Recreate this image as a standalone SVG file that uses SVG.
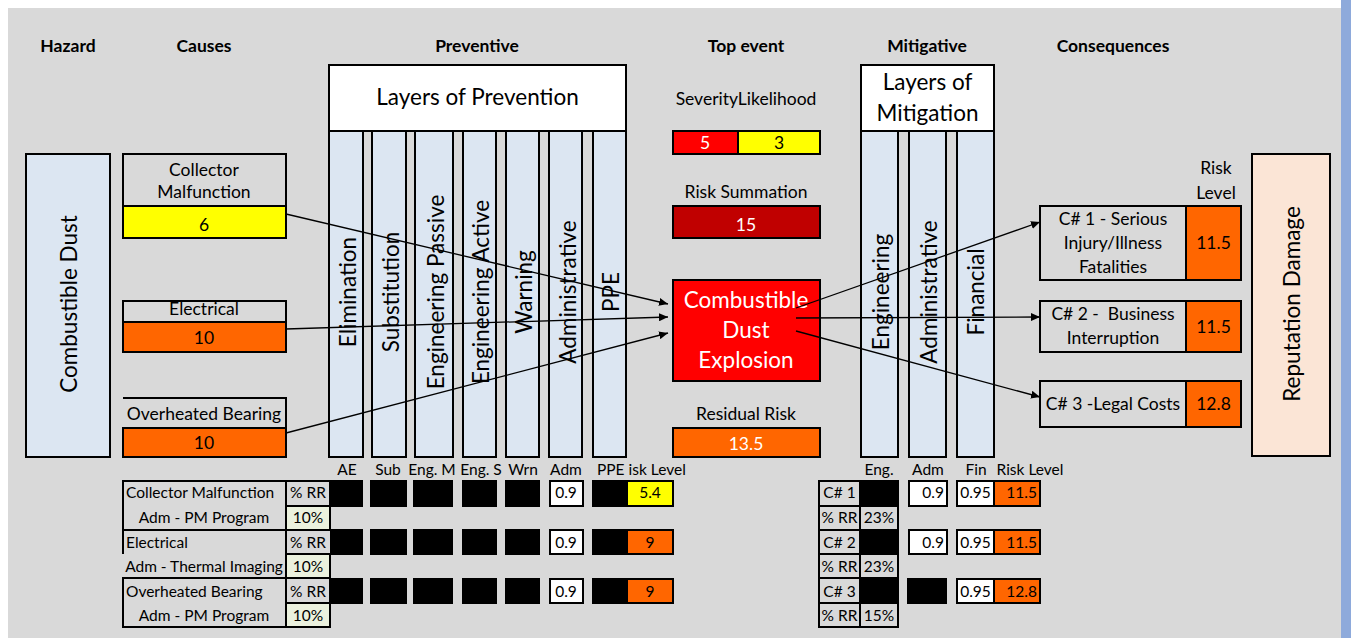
<svg xmlns="http://www.w3.org/2000/svg" width="1351" height="638" viewBox="0 0 1351 638">
  <style>
    text { font-family: Lato, "Liberation Sans", sans-serif; fill: #000; }
    .hd { font-size: 17.5px; font-weight: bold; text-anchor: middle; }
    .md { font-size: 17.5px; text-anchor: middle; }
    .bg { font-size: 22.5px; text-anchor: middle; }
    .sm { font-size: 15.5px; text-anchor: middle; }
    .st { text-anchor: start; }
    .en { text-anchor: end; }
    .wt { fill: #fff; }
    .bx { stroke: #000; stroke-width: 2; }
    .ln { stroke: #000; stroke-width: 2; fill: none; }
    .lay { fill: #dce6f2; stroke: #000; stroke-width: 2; }
    .gr { fill: #d9d9d9; }
    .wh { fill: #fff; }
    .ye { fill: #ffff00; }
    .or { fill: #ff6600; }
    .rd { fill: #ff0000; }
    .dr { fill: #c00000; }
    .gn { fill: #ebf1de; }
    .bk { fill: #000; }
    .cn { stroke: #000; stroke-width: 1.3; fill: none; marker-end: url(#arr); }
  </style>
  <defs>
    <marker id="arr" markerUnits="userSpaceOnUse" markerWidth="10" markerHeight="8" refX="9" refY="4" orient="auto">
      <path d="M0,0 L9,4 L0,8 z" fill="#000"/>
    </marker>
  </defs>

  <!-- sheet background -->
  <rect x="0" y="0" width="1351" height="638" fill="#fff"/>
  <rect x="8" y="8" width="1333" height="630" fill="#d9d9d9"/>
  <rect x="1341" y="0" width="10" height="638" fill="#8eaadb"/>

  <!-- column headings -->
  <g id="headings">
    <text class="hd" x="68" y="52">Hazard</text>
    <text class="hd" x="204" y="52">Causes</text>
    <text class="hd" x="477" y="52">Preventive</text>
    <text class="hd" x="746" y="52">Top event</text>
    <text class="hd" x="927" y="52">Mitigative</text>
    <text class="hd" x="1113" y="52">Consequences</text>
  </g>

  <!-- hazard -->
  <g id="hazard">
    <rect class="lay" x="26" y="154" width="84" height="303"/>
    <text class="bg" transform="translate(77,304) rotate(-90)">Combustible Dust</text>
  </g>

  <!-- causes -->
  <g id="cause-collector">
    <rect class="bx gr" x="123" y="154" width="163" height="52"/>
    <rect class="bx ye" x="123" y="206" width="163" height="32"/>
    <text class="md" x="204" y="176">Collector</text>
    <text class="md" x="204" y="198">Malfunction</text>
    <text class="md" x="204" y="231">6</text>
  </g>
  <g id="cause-electrical">
    <rect class="bx gr" x="123" y="301" width="163" height="21"/>
    <rect class="bx or" x="123" y="322" width="163" height="30"/>
    <text class="md" x="204" y="315">Electrical</text>
    <text class="md" x="204" y="344">10</text>
  </g>
  <g id="cause-bearing">
    <path class="ln" d="M123,398 H286 V428"/>
    <rect class="bx or" x="123" y="428" width="163" height="29"/>
    <text class="md" x="204" y="420">Overheated Bearing</text>
    <text class="md" x="204" y="449">10</text>
  </g>

  <!-- preventive barriers -->
  <g id="prevention-header">
    <rect class="bx wh" x="329" y="65" width="297" height="66"/>
    <text class="bg" x="477.5" y="105">Layers of Prevention</text>
  </g>
  <g id="barrier-elimination">
    <rect class="lay" x="329" y="131" width="34" height="326"/>
    <text class="bg" transform="translate(355.5,292) rotate(-90)">Elimination</text>
  </g>
  <g id="barrier-substitution">
    <rect class="lay" x="372" y="131" width="34" height="326"/>
    <text class="bg" transform="translate(398.5,292) rotate(-90)">Substitution</text>
  </g>
  <g id="barrier-eng-passive">
    <rect class="lay" x="415" y="131" width="38" height="326"/>
    <text class="bg" transform="translate(443.5,292) rotate(-90)">Engineering Passive</text>
  </g>
  <g id="barrier-eng-active">
    <rect class="lay" x="463" y="131" width="33" height="326"/>
    <text class="bg" transform="translate(489,292) rotate(-90)">Engineering Active</text>
  </g>
  <g id="barrier-warning">
    <rect class="lay" x="506" y="131" width="33" height="326"/>
    <text class="bg" transform="translate(532,292) rotate(-90)">Warning</text>
  </g>
  <g id="barrier-administrative">
    <rect class="lay" x="549" y="131" width="33" height="326"/>
    <text class="bg" transform="translate(576,292) rotate(-90)">Administrative</text>
  </g>
  <g id="barrier-ppe">
    <rect class="lay" x="593" y="131" width="33" height="326"/>
    <text class="bg" transform="translate(619,292) rotate(-90)">PPE</text>
  </g>

  <!-- top event and its ratings -->
  <g id="rating">
    <text class="md" x="746" y="105">SeverityLikelihood</text>
    <rect class="bx rd" x="673" y="131" width="65" height="23"/>
    <rect class="bx ye" x="738" y="131" width="82" height="23"/>
    <text class="md wt" x="705" y="149">5</text>
    <text class="md" x="779" y="149">3</text>
  </g>
  <g id="risk-summation">
    <text class="md" x="746" y="198">Risk Summation</text>
    <rect class="bx dr" x="673" y="206" width="147" height="32"/>
    <text class="md wt" x="746" y="231">15</text>
  </g>
  <g id="top-event">
    <rect class="bx rd" x="673" y="280" width="147" height="101"/>
    <text class="bg wt" x="746" y="308">Combustible</text>
    <text class="bg wt" x="746" y="338">Dust</text>
    <text class="bg wt" x="746" y="368">Explosion</text>
  </g>
  <g id="residual-risk">
    <text class="md" x="746" y="420">Residual Risk</text>
    <rect class="bx or" x="673" y="428" width="147" height="29"/>
    <text class="md wt" x="746" y="450">13.5</text>
  </g>

  <!-- mitigative barriers -->
  <g id="mitigation-header">
    <rect class="bx wh" x="861" y="65" width="133" height="66"/>
    <text class="bg" x="927.5" y="90">Layers of</text>
    <text class="bg" x="927.5" y="121">Mitigation</text>
  </g>
  <g id="barrier-engineering">
    <rect class="lay" x="861" y="131" width="37" height="326"/>
    <text class="bg" transform="translate(889,292) rotate(-90)">Engineering</text>
  </g>
  <g id="barrier-mit-administrative">
    <rect class="lay" x="909" y="131" width="37" height="326"/>
    <text class="bg" transform="translate(937,292) rotate(-90)">Administrative</text>
  </g>
  <g id="barrier-financial">
    <rect class="lay" x="957" y="131" width="37" height="326"/>
    <text class="bg" transform="translate(984,292) rotate(-90)">Financial</text>
  </g>

  <!-- consequences -->
  <g id="risk-level-heading">
    <text class="md" x="1216" y="174">Risk</text>
    <text class="md" x="1216" y="199">Level</text>
  </g>
  <g id="consequence-1">
    <rect class="bx gr" x="1040" y="206" width="146" height="74"/>
    <rect class="bx or" x="1186" y="206" width="55" height="74"/>
    <text class="md" x="1113" y="225">C# 1 - Serious</text>
    <text class="md" x="1113" y="249">Injury/Illness</text>
    <text class="md" x="1113" y="273">Fatalities</text>
    <text class="md" x="1213.5" y="249">11.5</text>
  </g>
  <g id="consequence-2">
    <rect class="bx gr" x="1040" y="301" width="146" height="51"/>
    <rect class="bx or" x="1186" y="301" width="55" height="51"/>
    <text class="md" x="1113" y="320" xml:space="preserve">C# 2 -  Business</text>
    <text class="md" x="1113" y="344">Interruption</text>
    <text class="md" x="1213.5" y="333">11.5</text>
  </g>
  <g id="consequence-3">
    <rect class="bx gr" x="1040" y="381" width="146" height="46"/>
    <rect class="bx or" x="1186" y="381" width="55" height="46"/>
    <text class="md" x="1113" y="410">C# 3 -Legal Costs</text>
    <text class="md" x="1213.5" y="410">12.8</text>
  </g>
  <g id="reputation">
    <rect class="bx" fill="#fbe5d6" x="1252" y="154" width="78" height="302"/>
    <text class="bg" transform="translate(1300,304) rotate(-90)">Reputation Damage</text>
  </g>

  <!-- connectors -->
  <g id="connectors">
    <line class="cn" x1="286" y1="214" x2="668" y2="304"/>
    <line class="cn" x1="286" y1="329" x2="668" y2="317"/>
    <line class="cn" x1="286" y1="433" x2="668" y2="333"/>
    <line class="cn" x1="796" y1="308" x2="1040" y2="222"/>
    <line class="cn" x1="796" y1="318" x2="1040" y2="317"/>
    <line class="cn" x1="796" y1="331" x2="1040" y2="397"/>
  </g>

  <!-- barrier effectiveness table, causes side -->
  <g id="prevention-table">
    <text class="sm" x="347" y="475">AE</text>
    <text class="sm" x="388" y="475">Sub</text>
    <text class="sm" x="432" y="475">Eng. M</text>
    <text class="sm" x="481" y="475">Eng. S</text>
    <text class="sm" x="523" y="475">Wrn</text>
    <text class="sm" x="566" y="475">Adm</text>
    <text class="sm st" x="597" y="475">PPE isk Level</text>

    <rect class="gn bx" x="286" y="506" width="44" height="24"/>
    <rect class="gn bx" x="286" y="554" width="44" height="24"/>
    <rect class="gn bx" x="286" y="603" width="44" height="24"/>
    <rect class="ln" x="123" y="481" width="207" height="49"/>
    <rect class="ln" x="123" y="578" width="207" height="49"/>
    <path class="ln" d="M123,530 V554 M286,481 V627"/>

    <text class="sm st" x="126" y="498">Collector Malfunction</text>
    <text class="sm" x="204" y="523">Adm - PM Program</text>
    <text class="sm st" x="126" y="548">Electrical</text>
    <text class="sm" x="204" y="572">Adm - Thermal Imaging</text>
    <text class="sm st" x="126" y="597">Overheated Bearing</text>
    <text class="sm" x="204" y="621">Adm - PM Program</text>
    <text class="sm" x="308" y="498">% RR</text>
    <text class="sm" x="308" y="523">10%</text>
    <text class="sm" x="308" y="548">% RR</text>
    <text class="sm" x="308" y="572">10%</text>
    <text class="sm" x="308" y="597">% RR</text>
    <text class="sm" x="308" y="621">10%</text>

    <!-- row 1 -->
    <rect class="bk" x="330" y="480" width="33" height="27"/>
    <rect class="bk" x="370" y="480" width="37" height="27"/>
    <rect class="bk" x="413" y="480" width="40" height="27"/>
    <rect class="bk" x="462" y="480" width="35" height="27"/>
    <rect class="bk" x="505" y="480" width="35" height="27"/>
    <rect class="bx wh" x="550" y="481" width="33" height="25"/>
    <rect class="bk" x="592" y="480" width="35" height="27"/>
    <rect class="bx ye" x="627" y="481" width="46" height="25"/>
    <text class="sm" x="566" y="498">0.9</text>
    <text class="sm" x="650" y="498">5.4</text>
    <!-- row 2 -->
    <rect class="bk" x="330" y="529" width="33" height="26"/>
    <rect class="bk" x="370" y="529" width="37" height="26"/>
    <rect class="bk" x="413" y="529" width="40" height="26"/>
    <rect class="bk" x="462" y="529" width="35" height="26"/>
    <rect class="bk" x="505" y="529" width="35" height="26"/>
    <rect class="bx wh" x="550" y="530" width="33" height="24"/>
    <rect class="bk" x="592" y="529" width="35" height="26"/>
    <rect class="bx or" x="627" y="530" width="46" height="24"/>
    <text class="sm" x="566" y="548">0.9</text>
    <text class="sm" x="650" y="548">9</text>
    <!-- row 3 -->
    <rect class="bk" x="330" y="578" width="33" height="26"/>
    <rect class="bk" x="370" y="578" width="37" height="26"/>
    <rect class="bk" x="413" y="578" width="40" height="26"/>
    <rect class="bk" x="462" y="578" width="35" height="26"/>
    <rect class="bk" x="505" y="578" width="35" height="26"/>
    <rect class="bx wh" x="550" y="579" width="33" height="24"/>
    <rect class="bk" x="592" y="578" width="35" height="26"/>
    <rect class="bx or" x="627" y="579" width="46" height="24"/>
    <text class="sm" x="566" y="597">0.9</text>
    <text class="sm" x="650" y="597">9</text>
  </g>

  <!-- barrier effectiveness table, consequences side -->
  <g id="mitigation-table">
    <text class="sm" x="879" y="475">Eng.</text>
    <text class="sm" x="928" y="475">Adm</text>
    <text class="sm" x="976" y="475">Fin</text>
    <text class="sm" x="1030" y="475">Risk Level</text>

    <rect class="bx gr" x="819" y="481" width="41" height="25"/>
    <rect class="bx bk" x="860" y="481" width="38" height="25"/>
    <rect class="bx gr" x="819" y="506" width="41" height="24"/>
    <rect class="bx gr" x="860" y="506" width="38" height="24"/>
    <rect class="bx gr" x="819" y="530" width="41" height="24"/>
    <rect class="bx bk" x="860" y="530" width="38" height="24"/>
    <rect class="bx gr" x="819" y="554" width="41" height="24"/>
    <rect class="bx gr" x="860" y="554" width="38" height="24"/>
    <rect class="bx gr" x="819" y="578" width="41" height="25"/>
    <rect class="bx bk" x="860" y="578" width="38" height="25"/>
    <rect class="bx gr" x="819" y="603" width="41" height="24"/>
    <rect class="bx gr" x="860" y="603" width="38" height="24"/>
    <text class="sm" x="839.5" y="498">C# 1</text>
    <text class="sm" x="839.5" y="523">% RR</text>
    <text class="sm" x="879" y="523">23%</text>
    <text class="sm" x="839.5" y="548">C# 2</text>
    <text class="sm" x="839.5" y="572">% RR</text>
    <text class="sm" x="879" y="572">23%</text>
    <text class="sm" x="839.5" y="597">C# 3</text>
    <text class="sm" x="839.5" y="621">% RR</text>
    <text class="sm" x="879" y="621">15%</text>

    <rect class="bx wh" x="909" y="481" width="38" height="25"/>
    <rect class="bx wh" x="909" y="530" width="38" height="24"/>
    <rect class="bk" x="907" y="578" width="40" height="26"/>
    <text class="sm en" x="944" y="498">0.9</text>
    <text class="sm en" x="944" y="548">0.9</text>

    <rect class="bx wh" x="957" y="481" width="37" height="25"/>
    <rect class="bx or" x="994" y="481" width="46" height="25"/>
    <rect class="bx wh" x="957" y="530" width="37" height="24"/>
    <rect class="bx or" x="994" y="530" width="46" height="24"/>
    <rect class="bx wh" x="957" y="579" width="37" height="24"/>
    <rect class="bx or" x="994" y="579" width="46" height="24"/>
    <text class="sm" x="975.5" y="498">0.95</text>
    <text class="sm en" x="1037" y="498">11.5</text>
    <text class="sm" x="975.5" y="548">0.95</text>
    <text class="sm en" x="1037" y="548">11.5</text>
    <text class="sm" x="975.5" y="597">0.95</text>
    <text class="sm en" x="1037" y="597">12.8</text>
  </g>
</svg>
